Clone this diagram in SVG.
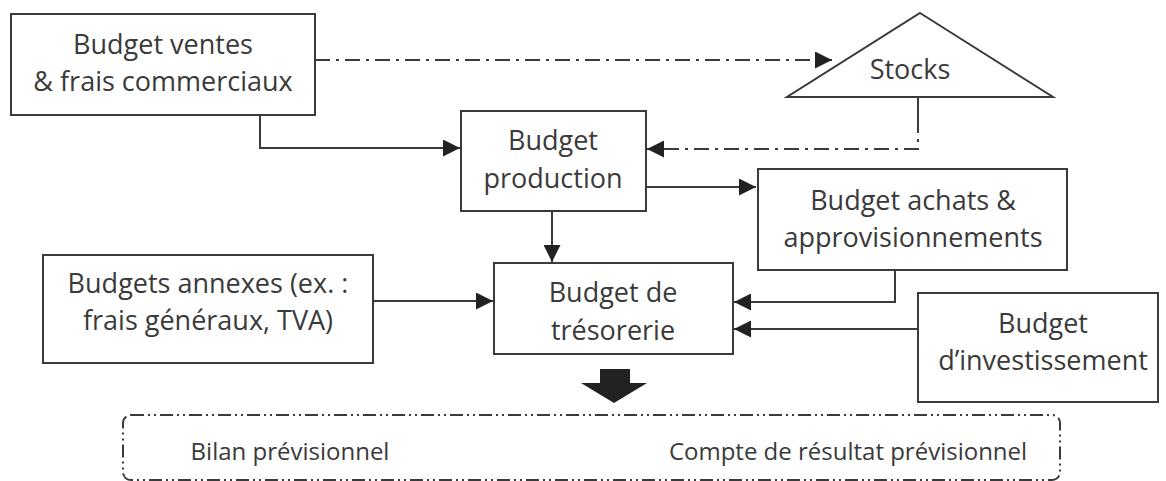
<svg xmlns="http://www.w3.org/2000/svg" width="1166" height="481" viewBox="0 0 1166 481">
<defs>
<style>
.box{fill:#fff;stroke:#3a3a3a;stroke-width:2}
.t{font-family:"Open Sans","Liberation Sans",sans-serif;font-size:27px;fill:#3a3a3a;text-anchor:middle}
.s{font-size:24px}
.c{fill:none;stroke:#3a3a3a;stroke-width:2}
.dd{stroke-dasharray:15 6 3 6}
</style>
<marker id="ah" viewBox="0 0 10 10" refX="10" refY="5" markerWidth="17" markerHeight="17" markerUnits="userSpaceOnUse" orient="auto">
<path d="M0,0 L10,5 L0,10 z" fill="#222"/>
</marker>
</defs>
<rect width="1166" height="481" fill="#fff"/>
<g id="connectors">
<path class="c dd" d="M315,60 H832" marker-end="url(#ah)"/>
<path class="c" d="M918,97 V118"/>
<path class="c dd" d="M918,118 V149 H647" marker-end="url(#ah)"/>
<path class="c" d="M260,115 V148 H460" marker-end="url(#ah)"/>
<path class="c" d="M646,187 H756" marker-end="url(#ah)"/>
<path class="c" d="M552,211 V262" marker-end="url(#ah)"/>
<path class="c" d="M373,301 H493" marker-end="url(#ah)"/>
<path class="c" d="M895,270 V302 H734" marker-end="url(#ah)"/>
<path class="c" d="M918,329 H734" marker-end="url(#ah)"/>
<path d="M600,369 H630 V383 H647 L614,403 L581,383 H600 Z" fill="#222"/>
</g>
<g id="ventes">
<rect class="box" x="11" y="14" width="304" height="101"/>
<text class="t" x="163" y="54">Budget ventes</text>
<text class="t" x="163" y="91">&amp; frais commerciaux</text>
</g>
<g id="stocks">
<path class="box" d="M920,13 L1053,97 L787,97 Z"/>
<text class="t" x="910" y="79">Stocks</text>
</g>
<g id="production">
<rect class="box" x="461" y="111" width="185" height="100"/>
<text class="t" x="553" y="150">Budget</text>
<text class="t" x="553" y="188">production</text>
</g>
<g id="achats">
<rect class="box" x="758" y="169" width="309" height="101"/>
<text class="t" x="913" y="210">Budget achats &amp;</text>
<text class="t" x="913" y="247">approvisionnements</text>
</g>
<g id="annexes">
<rect class="box" x="43" y="255" width="330" height="108"/>
<text class="t" x="208" y="293">Budgets annexes (ex. :</text>
<text class="t" x="208" y="330">frais généraux, TVA)</text>
</g>
<g id="tresorerie">
<rect class="box" x="494" y="263" width="239" height="91"/>
<text class="t" x="613" y="302">Budget de</text>
<text class="t" x="613" y="340">trésorerie</text>
</g>
<g id="investissement">
<rect class="box" x="918" y="293" width="240" height="109"/>
<text class="t" x="1043" y="333">Budget</text>
<text class="t" x="1043" y="370">d’investissement</text>
</g>
<g id="etats">
<rect class="c" x="123" y="415" width="937" height="65" rx="8" stroke-dasharray="13 4 2 4 2 4"/>
<text class="t s" x="290" y="460">Bilan prévisionnel</text>
<text class="t s" x="848" y="460">Compte de résultat prévisionnel</text>
</g>
</svg>
